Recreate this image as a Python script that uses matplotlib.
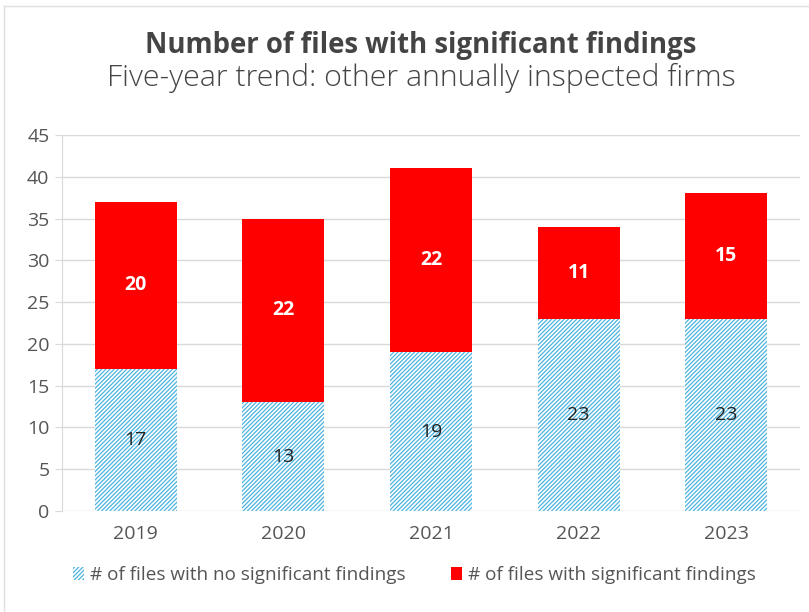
import matplotlib
matplotlib.use("Agg")
import matplotlib.pyplot as plt
from matplotlib.patches import Patch
from matplotlib.lines import Line2D
import numpy as np

plt.rcParams["font.family"] = ["Open Sans", "DejaVu Sans"]
plt.rcParams["hatch.linewidth"] = 0.9

years = ["2019", "2020", "2021", "2022", "2023"]
no_findings = [17, 13, 19, 23, 23]
with_findings = [20, 22, 22, 11, 15]

blue = "#4db3df"
red = "#ff0000"
grid_gray = "#d9d9d9"
text_gray = "#555555"
hatch = "////////"

fig = plt.figure(figsize=(8.09, 6.12), dpi=100)
ax = fig.add_axes([62 / 809, 1 - 511 / 612, (800 - 62) / 809, (511 - 135) / 612])

x = np.arange(len(years))
width = 0.556

ax.bar(x, no_findings, width, color="white", edgecolor=blue, linewidth=0,
       hatch=hatch, zorder=3)
ax.bar(x, with_findings, width, bottom=no_findings, color=red, linewidth=0, zorder=3)

for i in range(len(years)):
    ax.text(x[i], no_findings[i] / 2, str(no_findings[i]), ha="center", va="center",
            fontsize=14, color="#222222", zorder=4)
    ax.text(x[i], no_findings[i] + with_findings[i] / 2, str(with_findings[i]),
            ha="center", va="center", fontsize=14, fontweight="bold", color="white", zorder=4)

ax.set_xlim(-0.5, 4.5)
ax.set_ylim(0, 45)
ax.set_yticks(range(0, 50, 5))
ax.set_xticks(x)
ax.set_xticklabels(years)
ax.yaxis.grid(True, color=grid_gray, linewidth=1)
ax.set_axisbelow(True)
for side in ["top", "right", "bottom"]:
    ax.spines[side].set_visible(False)
ax.spines["left"].set_color(grid_gray)
ax.tick_params(axis="y", length=5, color=grid_gray, labelsize=14, labelcolor=text_gray, pad=4)
ax.tick_params(axis="x", length=0, labelsize=14, labelcolor=text_gray, pad=10)

handles = [
    Patch(facecolor="white", edgecolor=blue, linewidth=0, hatch=hatch),
    Patch(facecolor=red, edgecolor=red, linewidth=0),
]
labels = ["# of files with no significant findings", "# of files with significant findings"]
leg = fig.legend(handles, labels, loc="center", bbox_to_anchor=(414 / 809, 1 - 575 / 612),
                 ncol=2, frameon=False, fontsize=13.6, handlelength=0.6, handleheight=0.7,
                 handletextpad=0.3, columnspacing=2.4)
for t in leg.get_texts():
    t.set_color(text_gray)

fig.text(421 / 809, 1 - 46 / 612, "Number of files with significant findings",
         ha="center", va="center", fontsize=19.8, fontweight="bold", color="#444444")
fig.text(421 / 809, 1 - 78 / 612, "Five-year trend: other annually inspected firms",
         ha="center", va="center", fontsize=21.8, fontweight="light", color="#444444")

# outer frame (top and left edges visible)
fig.add_artist(Line2D([4 / 809, 4 / 809], [0, 1 - 6 / 612], transform=fig.transFigure,
                      color="#e0e0e0", linewidth=1))
fig.add_artist(Line2D([4 / 809, 1], [1 - 6 / 612, 1 - 6 / 612], transform=fig.transFigure,
                      color="#e0e0e0", linewidth=1))

fig.savefig("out.png", dpi=100)
